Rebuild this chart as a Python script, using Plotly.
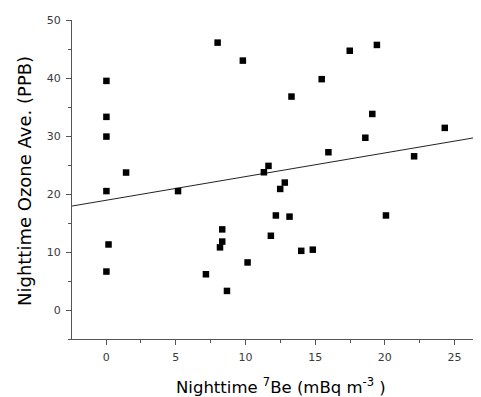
import plotly.graph_objects as go

be7 = [0.02, 0.02, 0.02, 1.43, 0.02, 5.16, 8.0, 9.81, 17.48, 19.43, 15.47, 13.3, 19.1, 24.3,
       18.6, 15.95, 22.1, 11.65, 11.32, 12.82, 12.49, 0.17, 0.02, 7.16, 8.67, 8.33, 8.33,
       8.17, 10.15, 11.82, 12.18, 13.16, 14.0, 14.83, 20.08]
ozone = [39.5, 33.3, 29.9, 23.7, 20.5, 20.5, 46.1, 43.0, 44.7, 45.7, 39.8, 36.8, 33.8, 31.4,
         29.7, 27.2, 26.5, 24.85, 23.75, 21.97, 20.87, 11.3, 6.63, 6.16, 3.29, 13.9, 11.8,
         10.8, 8.2, 12.8, 16.3, 16.1, 10.2, 10.4, 16.3]

fit_intercept = 18.92
fit_slope = 0.408
x_range = [-2.45, 26.9]
y_range = [-5, 50]
fit_x = x_range
fit_y = [fit_intercept + fit_slope * v for v in fit_x]

x_ticks = [0, 5, 10, 15, 20, 25]
y_ticks = [0, 10, 20, 30, 40, 50]

x_title = "Nighttime <sup>7</sup>Be (mBq m<sup>-3</sup> )"
y_title = "Nighttime Ozone Ave. (PPB)"

# page body has an 8px default margin, so the figure is placed at (8, 8)
OFF = 8
W, H = 481 - OFF, 397 - OFF
L, T, B = 72 - OFF, 20 - OFF, 58
PW, PH = W - L, H - T - B

fig = go.Figure()
fig.add_trace(go.Scatter(x=fit_x, y=fit_y, mode="lines",
                         line=dict(color="#222222", width=1), showlegend=False))
fig.add_trace(go.Scatter(x=be7, y=ozone, mode="markers",
                         marker=dict(symbol="square", size=6.5, color="black"),
                         showlegend=False, cliponaxis=False))

tickfont = dict(family="DejaVu Sans", size=11, color="#3a3a3a")
axis_common = dict(ticks="outside", ticklen=5, tickcolor="#555555", showline=True,
                   linecolor="#555555", linewidth=1, showgrid=False, zeroline=False,
                   tickfont=tickfont, automargin=False)
fig.update_layout(
    width=W, height=H,
    margin=dict(l=L, r=0, t=T, b=B, pad=0),
    paper_bgcolor="white", plot_bgcolor="white",
    font=dict(family="DejaVu Sans", color="black"),
    xaxis=dict(range=x_range, tickvals=x_ticks, ticklabelstandoff=3,
               minor=dict(dtick=2.5, tick0=0, ticks="outside", ticklen=3, tickcolor="#555555"),
               **axis_common),
    yaxis=dict(range=y_range, tickvals=y_ticks, ticklabelstandoff=3,
               minor=dict(dtick=5, tick0=0, ticks="outside", ticklen=3, tickcolor="#555555"),
               **axis_common),
    annotations=[
        dict(text=x_title, xref="paper", yref="paper", x=(281 - 72) / PW, y=-(386 - 339) / PH,
             xanchor="center", yanchor="middle", showarrow=False,
             font=dict(family="DejaVu Sans", size=16.5, color="black")),
        dict(text=y_title, xref="paper", yref="paper", x=-(72 - 24) / PW, y=(339 - 181) / PH,
             xanchor="center", yanchor="middle", showarrow=False, textangle=-90,
             font=dict(family="DejaVu Sans", size=18, color="black")),
    ],
)

fig.write_html("out.html")
